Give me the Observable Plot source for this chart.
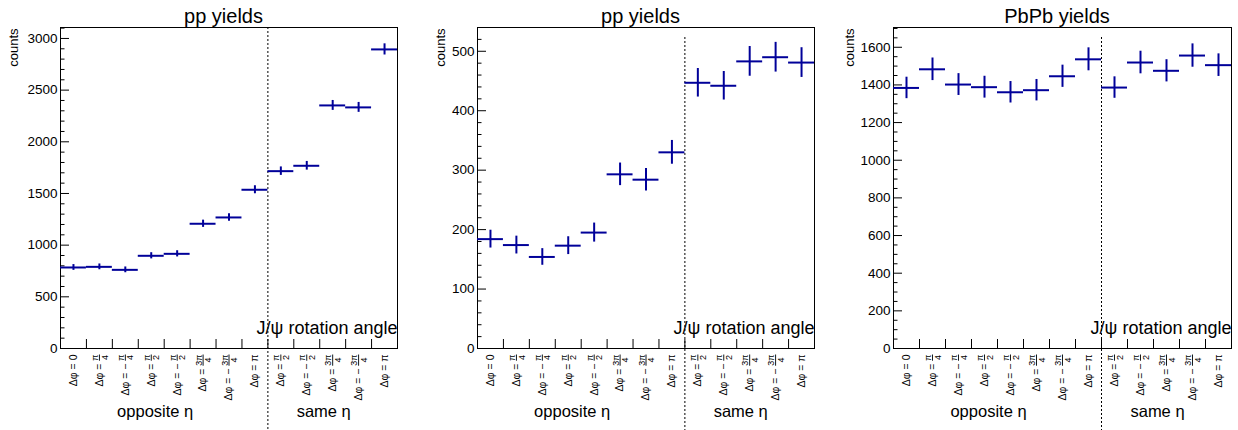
<!DOCTYPE html>
<html><head><meta charset="utf-8">
<script src="https://cdn.jsdelivr.net/npm/d3@7"></script>
<script src="https://cdn.jsdelivr.net/npm/@observablehq/plot@0.6"></script>
<style>
body{margin:0;background:#fff;}
#wrap{display:flex;width:1238px;height:430px;overflow:hidden;}
#wrap svg{display:block;flex:none;overflow:visible;}
</style></head><body><div id="wrap"></div>
<script>
// ---- data ----
const binLabels = ["Δφ = 0","Δφ = π/4","Δφ = − π/4","Δφ = π/2","Δφ = − π/2","Δφ = 3π/4","Δφ = − 3π/4","Δφ = π",
                   "Δφ = π/2","Δφ = − π/2","Δφ = 3π/4","Δφ = − 3π/4","Δφ = π"];
const groupLabels = ["opposite η", "same η"];
const groupStart = [0, 8];
const groupEnd = [8, 13];
const titles = ["pp yields", "pp yields", "PbPb yields"];
const xTitle = "J/ψ rotation angle";
const yTitle = "counts";

const ppAValues = [784, 790, 761, 897, 916, 1207, 1268, 1536, 1716, 1768, 2352, 2333, 2894];
const ppAErrors = [28, 28, 28, 30, 30, 35, 36, 39, 41, 42, 48, 48, 54];
const ppBValues = [184, 174, 154, 173, 195, 293, 284, 330, 447, 442, 483, 490, 481];
const ppBErrors = [15, 15, 14, 15, 16, 19, 19, 20, 24, 24, 25, 25, 25];
const pbpbValues = [1384, 1483, 1402, 1388, 1361, 1372, 1446, 1536, 1386, 1519, 1475, 1556, 1505];
const pbpbErrors = [57, 60, 58, 58, 57, 57, 59, 61, 57, 60, 59, 62, 60];

const yMax = [3106, 540, 1705];
const yMajorStep = [500, 100, 200];
const yMinorStep = [100, 20, 50];

// ---- layout / style ----
const panelWidth = [413, 413, 412];
const mLeft = [60, 64, 67];
const mRight = [16, 12, 7];
const yTitleDx = [-46.5, -37, -44];
const dashInsetTop = [0, 10, 10];
const H = 430, mTop = 27, mBottom = 82;
const markerColor = "#000099";
const FONT = "'Liberation Sans', Arial, Helvetica, sans-serif";

const series = [
  {v: ppAValues, e: ppAErrors},
  {v: ppBValues, e: ppBErrors},
  {v: pbpbValues, e: pbpbErrors}
];

function range(a, b, s) { const out = []; for (let t = a; t <= b + 1e-9; t += s) out.push(+t.toFixed(6)); return out; }

const wrap = document.getElementById("wrap");
const nBins = binLabels.length;
const idx = d3.range(nBins);
const centers = idx.map(i => i + 0.5);
const boundaries = d3.range(1, nBins);

series.forEach((s, p) => {
  const fw = panelWidth[p] - mLeft[p] - mRight[p];
  const fh = H - mTop - mBottom;
  const majors = range(0, yMax[p], yMajorStep[p]);
  const minors = range(0, yMax[p], yMinorStep[p]).filter(d => !majors.includes(d));
  const groups = d3.range(groupLabels.length);
  const svg = Plot.plot({
    width: panelWidth[p], height: H,
    marginLeft: mLeft[p], marginRight: mRight[p], marginTop: mTop, marginBottom: mBottom,
    style: {fontFamily: FONT, fontSize: "13px", color: "black", background: "white", overflow: "visible"},
    x: {domain: [0, nBins], nice: false},
    y: {domain: [0, yMax[p]], nice: false},
    marks: [
      Plot.frame({stroke: "black", strokeWidth: 1}),
      Plot.tickY(majors, {y: d => d, insetRight: fw - 9, stroke: "black"}),
      Plot.tickY(minors, {y: d => d, insetRight: fw - 4.5, stroke: "black"}),
      Plot.tickX(boundaries, {x: d => d, insetTop: fh - 9, stroke: "black"}),
      Plot.axisY({ticks: majors, tickSize: 0, tickPadding: 3, fontSize: 13.5, tickFormat: d => String(d)}),
      Plot.axisX({ticks: centers, tickSize: 0, tickPadding: 6, tickRotate: -90, fontSize: 10.5,
                  tickFormat: d => binLabels[Math.floor(d)]}),
      Plot.ruleX(groupStart.slice(1), {x: d => d, insetTop: dashInsetTop[p], insetBottom: -mBottom,
                  stroke: "black", strokeWidth: 1, strokeDasharray: "2,2"}),
      Plot.ruleY(idx, {y: i => s.v[i], x1: i => i, x2: i => i + 1, stroke: markerColor, strokeWidth: 2}),
      Plot.ruleX(idx, {x: i => i + 0.5, y1: i => s.v[i] - s.e[i], y2: i => s.v[i] + s.e[i], stroke: markerColor, strokeWidth: 2}),
      Plot.text([titles[p]], {frameAnchor: "top", lineAnchor: "bottom", dy: -4.5, dx: -5.5, fontSize: 20, fill: "black"}),
      Plot.text([yTitle], {frameAnchor: "top-left", rotate: -90, textAnchor: "end", lineAnchor: "middle",
                           dx: yTitleDx[p], dy: 1, fontSize: 13, fill: "black"}),
      Plot.text([xTitle], {frameAnchor: "bottom-right", textAnchor: "end", lineAnchor: "bottom", dy: -15, fontSize: 18, fill: "black"}),
      Plot.text(groups, {x: g => (groupStart[g] + groupEnd[g]) / 2, text: g => groupLabels[g],
                         frameAnchor: "bottom", lineAnchor: "bottom", dy: 68, dx: -9, fontSize: 16.5, fill: "black"})
    ]
  });
  wrap.appendChild(svg);
  fracify(svg);
});

function fracify(svg) {
  const ns = "http://www.w3.org/2000/svg";
  svg.querySelectorAll('g[aria-label="x-axis tick label"] text').forEach(t => {
    const m = t.textContent.match(/^(.*?)([0-9]*π)\/([0-9]+)$/);
    if (!m) return;
    t.textContent = "";
    const a = document.createElementNS(ns, "tspan"); a.textContent = m[1]; t.appendChild(a);
    const n = document.createElementNS(ns, "tspan"); n.textContent = m[2];
    n.setAttribute("font-size", "9px"); n.setAttribute("dy", "-4.8");
    n.setAttribute("style", "text-decoration: underline;");
    t.appendChild(n);
    const d = document.createElementNS(ns, "tspan"); d.textContent = m[3];
    d.setAttribute("font-size", "9px"); t.appendChild(d);
    const nw = n.getComputedTextLength(), dw = d.getComputedTextLength();
    d.setAttribute("dx", (-(nw + dw) / 2).toFixed(2));
    d.setAttribute("dy", "9.6");
  });
}
</script></body></html>
